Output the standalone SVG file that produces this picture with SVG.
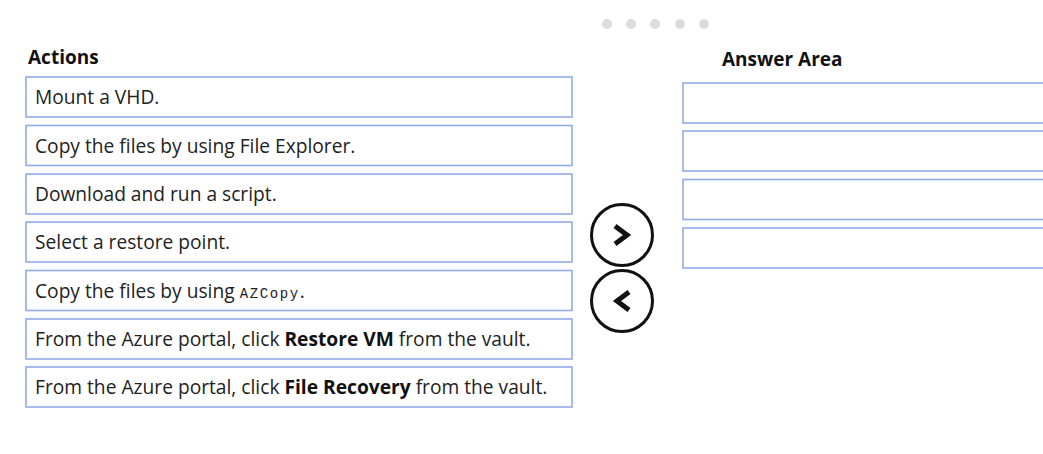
<svg xmlns="http://www.w3.org/2000/svg" width="1043" height="454" viewBox="0 0 1043 454">
<style>
.box{fill:#fff;stroke:#91abe8;stroke-width:1.6}
.t{font-family:"Segoe UI","Open Sans","Noto Sans",sans-serif;font-size:19.2px;fill:#222}
.h{font-family:"Segoe UI","Open Sans","Noto Sans",sans-serif;font-size:19px;font-weight:bold;fill:#111}
.b{font-weight:bold;fill:#111}
.m{font-family:"Liberation Mono",monospace;font-size:14px;letter-spacing:1.6px}
.dot{fill:#dcdcdc}
.btn{fill:#fff;stroke:#111;stroke-width:3}
.chev{fill:none;stroke:#111;stroke-width:5;stroke-linecap:butt;stroke-linejoin:miter}
</style>
<rect width="1043" height="454" fill="#fff"/>
<g id="pager">
<circle class="dot" cx="607" cy="24" r="5"/>
<circle class="dot" cx="631" cy="24" r="5"/>
<circle class="dot" cx="655" cy="24" r="5"/>
<circle class="dot" cx="680" cy="24" r="5"/>
<circle class="dot" cx="704" cy="24" r="5"/>
</g>
<text class="h" x="28" y="64">Actions</text>
<text class="h" x="722" y="66">Answer Area</text>
<g id="a1"><rect class="box" x="26" y="77" width="546" height="40"/><text class="t" x="35" y="104">Mount a VHD.</text></g>
<g id="a2"><rect class="box" x="26" y="125.5" width="546" height="40"/><text class="t" x="35" y="152.5">Copy the files by using File Explorer.</text></g>
<g id="a3"><rect class="box" x="26" y="174" width="546" height="40"/><text class="t" x="35" y="201">Download and run a script.</text></g>
<g id="a4"><rect class="box" x="26" y="222" width="546" height="40"/><text class="t" x="35" y="249">Select a restore point.</text></g>
<g id="a5"><rect class="box" x="26" y="270.5" width="546" height="40"/><text class="t" x="35" y="297.5">Copy the files by using <tspan class="m">AZCopy</tspan>.</text></g>
<g id="a6"><rect class="box" x="26" y="319" width="546" height="40"/><text class="t" x="35" y="346">From the Azure portal, click <tspan class="b">Restore VM</tspan> from the vault.</text></g>
<g id="a7"><rect class="box" x="26" y="367" width="546" height="40"/><text class="t" x="35" y="394">From the Azure portal, click <tspan class="b">File Recovery</tspan> from the vault.</text></g>
<g id="r1"><rect class="box" x="683" y="83" width="365" height="40"/></g>
<g id="r2"><rect class="box" x="683" y="131" width="365" height="40"/></g>
<g id="r3"><rect class="box" x="683" y="179.5" width="365" height="40"/></g>
<g id="r4"><rect class="box" x="683" y="228" width="365" height="40"/></g>
<g id="btn-right"><circle class="btn" cx="622" cy="235" r="30.5"/><polyline class="chev" points="615,226 627,235 615,244"/></g>
<g id="btn-left"><circle class="btn" cx="622" cy="301" r="30.5"/><polyline class="chev" points="629,292 617,301 629,310"/></g>
</svg>
